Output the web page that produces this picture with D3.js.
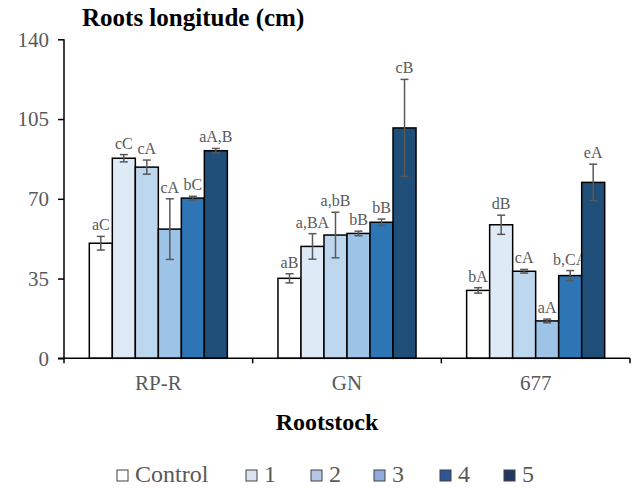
<!DOCTYPE html>
<html>
<head>
<meta charset="utf-8">
<script src="https://cdn.jsdelivr.net/npm/d3@7"></script>
<style>
  html, body { margin: 0; padding: 0; background: #fff; }
  svg { display: block; }
</style>
</head>
<body>
<svg id="chart" width="638" height="488"></svg>
<script>
// Rootstock groups and treatment series
const rootstocks = ["RP-R", "GN", "677"];
const treatments = ["Control", "1", "2", "3", "4", "5"];

// Mean root length (cm) per rootstock, one entry per treatment
const meanRPR = [50.5, 87.8, 83.9, 56.7, 70.3, 91.1];
const meanGN  = [35.1, 49.1, 54.1, 54.8, 59.7, 101.1];
const mean677 = [29.8, 58.6, 38.2, 16.4, 36.3, 77.2];

// Error bar half-widths (cm)
const errRPR = [3.0, 1.6, 3.1, 13.3, 0.8, 1.0];
const errGN  = [2.0, 5.6, 10.0, 1.0, 1.4, 21.3];
const err677 = [1.2, 4.2, 0.8, 0.8, 2.2, 8.0];

// Significance letters
const lettersRPR = ["aC", "cC", "cA", "cA", "bC", "aA,B"];
const lettersGN  = ["aB", "a,BA", "a,bB", "bB", "bB", "cB"];
const letters677 = ["bA", "dB", "cA", "aA", "b,CA", "eA"];

const yTicks = [0, 35, 70, 105, 140];

const barColors = ["#ffffff", "#deebf7", "#bdd7ee", "#9dc3e6", "#2e75b6", "#1f4e79"];
const legendColors = ["#ffffff", "#dae3f3", "#b4c7e7", "#8faadc", "#2f5597", "#203864"];

const groups = [
  { name: rootstocks[0], means: meanRPR, errs: errRPR, letters: lettersRPR },
  { name: rootstocks[1], means: meanGN,  errs: errGN,  letters: lettersGN },
  { name: rootstocks[2], means: mean677, errs: err677, letters: letters677 }
];

const FONT = "'Liberation Serif', 'Times New Roman', serif";
const svg = d3.select("#chart");
const axisX0 = 64, axisX1 = 630, axisY0 = 358.3, axisY1 = 39.3;
const grey = "#595959";

const y = d3.scaleLinear().domain([0, 140]).range([axisY0, axisY1]);
const x0 = d3.scaleBand().domain(rootstocks).range([axisX0, axisX1]).paddingInner(0).paddingOuter(0);
const x1 = d3.scaleBand().domain(treatments).range([0, x0.bandwidth()]).paddingInner(0).paddingOuter(1.1);

// Title
svg.append("text")
  .attr("x", 82).attr("y", 26)
  .style("font-family", FONT).style("font-size", "25px").style("font-weight", "bold")
  .attr("fill", "#000")
  .text("Roots longitude (cm)");

// Bars, error bars and letters
const g = svg.selectAll("g.group").data(groups).join("g")
  .attr("class", "group")
  .attr("transform", d => `translate(${x0(d.name)},0)`);

const items = g.selectAll("g.item")
  .data(d => treatments.map((t, i) => ({ t, i, v: d.means[i], e: d.errs[i], l: d.letters[i] })))
  .join("g").attr("class", "item");

items.append("rect")
  .attr("x", d => x1(d.t))
  .attr("y", d => y(d.v))
  .attr("width", x1.bandwidth())
  .attr("height", d => y(0) - y(d.v))
  .attr("fill", d => barColors[d.i])
  .attr("stroke", "#000")
  .attr("stroke-width", 1.5);

const cx = d => x1(d.t) + x1.bandwidth() / 2;
items.append("line")
  .attr("x1", cx).attr("x2", cx)
  .attr("y1", d => y(d.v + d.e)).attr("y2", d => y(d.v - d.e))
  .attr("stroke", grey).attr("stroke-width", 1.5);
[1, -1].forEach(s => {
  items.append("line")
    .attr("x1", d => cx(d) - 4).attr("x2", d => cx(d) + 4)
    .attr("y1", d => y(d.v + s * d.e)).attr("y2", d => y(d.v + s * d.e))
    .attr("stroke", grey).attr("stroke-width", 1.5);
});
items.append("text")
  .attr("x", cx)
  .attr("y", d => y(d.v + d.e) - 6)
  .attr("text-anchor", "middle")
  .style("font-family", FONT).style("font-size", "16px")
  .attr("fill", grey)
  .text(d => d.l);

// Y axis
const yAxis = svg.append("g").attr("transform", `translate(${axisX0},0)`)
  .call(d3.axisLeft(y).tickValues(yTicks).tickSize(6).tickPadding(9));
yAxis.select(".domain").attr("d", `M0,${axisY1}V${axisY0 + 1}`).attr("stroke", "#000").attr("stroke-width", 1.5);
yAxis.selectAll(".tick line").attr("stroke", "#000").attr("stroke-width", 1.5);
yAxis.selectAll(".tick text")
  .style("font-family", FONT).style("font-size", "21px")
  .attr("fill", grey);

// X axis with ticks at group boundaries
const xAxis = svg.append("g").attr("transform", `translate(0,${axisY0})`)
  .call(d3.axisBottom(x0).tickSize(0).tickPadding(17));
xAxis.select(".domain").attr("d", `M${axisX0 - 6},0H${axisX1}`).attr("stroke", "#000").attr("stroke-width", 1.5);
xAxis.selectAll(".tick text")
  .style("font-family", FONT).style("font-size", "21px")
  .attr("fill", grey);
const bounds = rootstocks.map(r => x0(r)).concat([x0(rootstocks[rootstocks.length - 1]) + x0.bandwidth()]);
xAxis.selectAll("line.bound").data(bounds).join("line")
  .attr("class", "bound")
  .attr("x1", d => d).attr("x2", d => d)
  .attr("y1", 0).attr("y2", 5)
  .attr("stroke", "#000").attr("stroke-width", 1.5);

// X axis title
svg.append("text")
  .attr("x", 327).attr("y", 430)
  .attr("text-anchor", "middle")
  .style("font-family", FONT).style("font-size", "24px").style("font-weight", "bold")
  .attr("fill", "#000")
  .text("Rootstock");

// Legend
const legendX = [117, 246, 311, 374, 440, 504];
const leg = svg.selectAll("g.legend").data(treatments).join("g")
  .attr("class", "legend")
  .attr("transform", (d, i) => `translate(${legendX[i]},470)`);
leg.append("rect")
  .attr("width", 11).attr("height", 11)
  .attr("fill", (d, i) => legendColors[i])
  .attr("stroke", "#404040").attr("stroke-width", 1);
leg.append("text")
  .attr("x", 18).attr("y", 12)
  .style("font-family", FONT).style("font-size", "24px")
  .attr("fill", grey)
  .text(d => d);
</script>
</body>
</html>
